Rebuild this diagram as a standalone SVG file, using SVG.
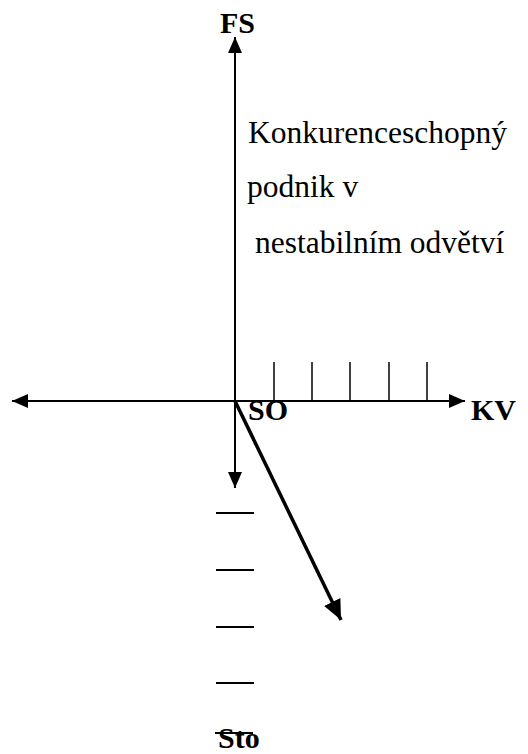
<svg xmlns="http://www.w3.org/2000/svg" width="528" height="754" viewBox="0 0 528 754">
<defs>
<marker id="ah" viewBox="0 0 16 14" refX="16" refY="7" markerWidth="16" markerHeight="14" markerUnits="userSpaceOnUse" orient="auto">
<path d="M0,0 L16,7 L0,14 Z" fill="#000"/>
</marker>
<marker id="ahb" viewBox="0 0 20 18" refX="20" refY="9" markerWidth="20" markerHeight="18" markerUnits="userSpaceOnUse" orient="auto">
<path d="M0,0 L20,9 L0,18 Z" fill="#000"/>
</marker>
</defs>
<style>
.ax{stroke:#000;stroke-width:2;fill:none}
.tk{stroke:#000;stroke-width:1.5}
.ds{stroke:#000;stroke-width:2}
.lb{font-family:"Liberation Serif","Times New Roman",serif;font-weight:bold;font-size:30px;fill:#000}
.tx{font-family:"Liberation Serif","Times New Roman",serif;font-size:31.5px;fill:#000}
</style>
<rect width="528" height="754" fill="#fff"/>
<g id="connectors">
<line class="ax" x1="235" y1="401" x2="235" y2="37" marker-end="url(#ah)"/>
<line class="ax" x1="235" y1="401" x2="235" y2="488" marker-end="url(#ah)"/>
<line class="ax" x1="235" y1="401" x2="12" y2="401" marker-end="url(#ah)"/>
<line class="ax" x1="235" y1="401" x2="465" y2="401" marker-end="url(#ah)"/>
<line x1="235" y1="401" x2="341" y2="620" stroke="#000" stroke-width="3.5" marker-end="url(#ahb)"/>
</g>
<g id="ticks">
<line class="tk" x1="274" y1="362" x2="274" y2="401"/>
<line class="tk" x1="312" y1="362" x2="312" y2="401"/>
<line class="tk" x1="350" y1="362" x2="350" y2="401"/>
<line class="tk" x1="389" y1="362" x2="389" y2="401"/>
<line class="tk" x1="427" y1="362" x2="427" y2="401"/>
</g>
<g id="dashes">
<line class="ds" x1="216" y1="513" x2="254" y2="513"/>
<line class="ds" x1="216" y1="570" x2="254" y2="570"/>
<line class="ds" x1="216" y1="627" x2="254" y2="627"/>
<line class="ds" x1="216" y1="683" x2="254" y2="683"/>
</g>
<g id="FS"><text class="lb" x="220" y="33">FS</text></g>
<g id="KV"><text class="lb" x="471" y="420">KV</text></g>
<g id="SO"><text class="lb" x="248" y="420">SO</text></g>
<g id="Sto"><text class="lb" x="218" y="748">Sto</text>
<line class="ds" x1="215" y1="733" x2="253" y2="733"/></g>
<g id="label">
<text class="tx" x="248" y="143">Konkurenceschopný</text>
<text class="tx" x="247" y="197">podnik v</text>
<text class="tx" x="255" y="253">nestabilním odvětví</text>
</g>
</svg>
